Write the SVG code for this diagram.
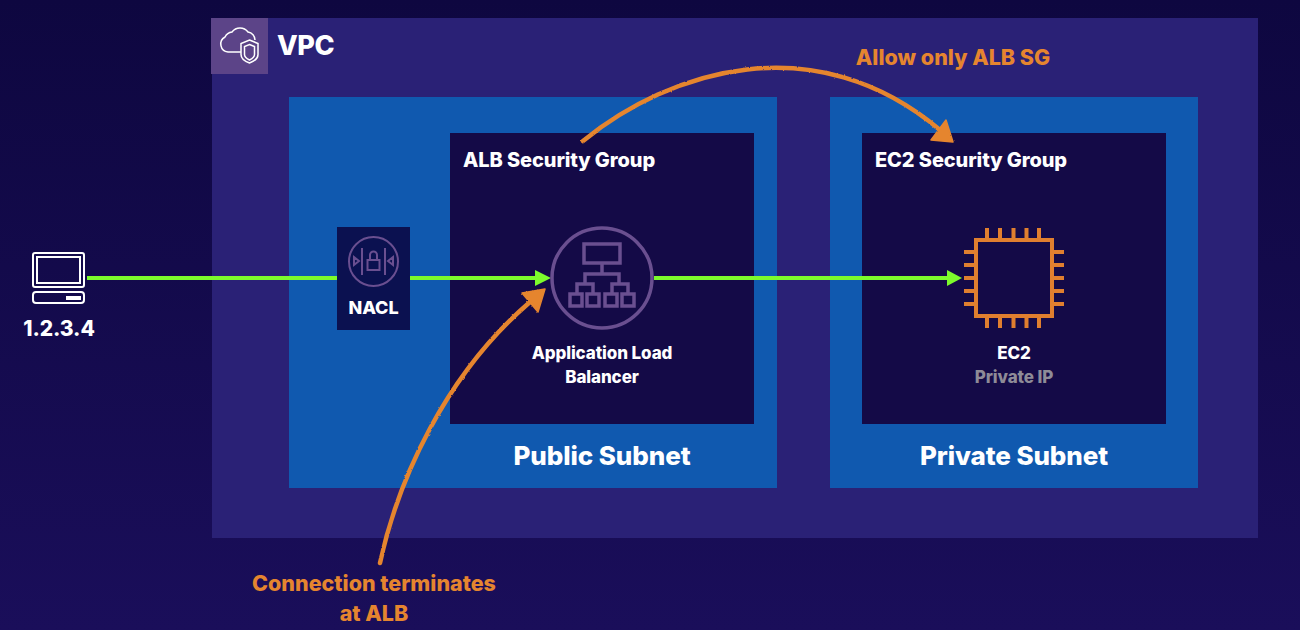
<svg xmlns="http://www.w3.org/2000/svg" width="1300" height="630" viewBox="0 0 1300 630">
<style>
text{font-family:Inter,"Liberation Sans",sans-serif;font-weight:800;fill:#fff;text-anchor:middle;letter-spacing:-.1px}
.l{text-anchor:start}
.o{fill:#e5852f;letter-spacing:0}
.sg{fill:#140a47}
.sub{fill:#1059af}
.p{fill:none;stroke:#6a4f90;stroke-width:3.500}
.pt{fill:none;stroke:#6a4f90;stroke-width:2}
.e{fill:none;stroke:#e07f2f;stroke-width:4}
.w{fill:none;stroke:#fff;stroke-width:2}
.g{fill:none;stroke:#7dfb2c;stroke-width:4}
.ga{fill:#7dfb2c}
.h{fill:none;stroke:#e5852f;stroke-width:4.500;stroke-linecap:round}
.ha{fill:#e5852f;stroke:#e5852f;stroke-width:1.500;stroke-linejoin:round}
</style>
<defs>
<linearGradient id="bg" x1="0" y1="0" x2="0" y2="1"><stop offset="0" stop-color="#0e0740"/><stop offset="1" stop-color="#1a0e5a"/></linearGradient>
<filter id="rough" x="-5%" y="-5%" width="110%" height="110%"><feTurbulence type="fractalNoise" baseFrequency="0.35" numOctaves="2" seed="4"/><feDisplacementMap in="SourceGraphic" scale="2" xChannelSelector="R" yChannelSelector="G"/></filter>
</defs>
<rect width="1300" height="630" fill="url(#bg)"/>
<g id="vpc">
<rect x="212" y="18" width="1046" height="520" fill="#2a2176"/>
<rect x="211" y="18" width="57" height="56" fill="#5c4488"/>
<path d="M241 52h-13a8 8 0 0 1-3-15a9 9 0 0 1 7-5a10 10 0 0 1 16 0a8 8 0 0 1 7 8" fill="none" stroke="#fff" stroke-width="1.500"/>
<path d="M249.500 40l8.500 3.500v11c0 4-3 6.500-8.500 8.500c-5.500-2-8.500-4.500-8.500-8.500v-11zM249.500 44.500l5 2v8c0 2.500-2 4-5 5.500c-3-1.500-5-3-5-5.500v-8z" fill="#5c4488" stroke="#fff" stroke-width="1.500"/>
<text class="l" x="277" y="55" font-size="27" style="letter-spacing:-.5px">VPC</text>
</g>
<g id="public-subnet">
<rect class="sub" x="289" y="97" width="488" height="391"/>
<rect class="sg" x="450" y="133" width="304" height="291"/>
<text class="l" x="463" y="167" font-size="20">ALB Security Group</text>
<text x="602" y="465" font-size="26">Public Subnet</text>
</g>
<g id="private-subnet">
<rect class="sub" x="830" y="97" width="368" height="391"/>
<rect class="sg" x="862" y="133" width="304" height="291"/>
<text class="l" x="875" y="167" font-size="20">EC2 Security Group</text>
<text x="1014" y="465" font-size="26">Private Subnet</text>
</g>
<g id="connectors">
<path class="g" d="M87 278H338M410 278H536M654 278H948"/>
<path class="ga" d="M535 270L551 278L535 286ZM947 270L962 278L947 286Z"/>
<g filter="url(#rough)">
<path class="h" d="M380 563C398 480 445 375 530 302"/>
<path class="ha" d="M522 293L545 289L538 312Z"/>
<path class="h" d="M583 141C670 70 815 25 940 130"/>
<path class="ha" d="M931 140L946 120L953 142Z"/>
</g>
</g>
<g id="client">
<rect class="w" x="33" y="253" width="51" height="34" rx="2"/>
<rect class="w" x="37" y="257" width="43" height="26"/>
<rect class="w" x="33" y="292" width="51" height="11" rx="3"/>
<rect x="66" y="296" width="15" height="4" fill="#fff"/>
<text x="59" y="336" font-size="21">1.2.3.4</text>
</g>
<g id="nacl">
<rect x="337" y="227" width="73" height="103" fill="#0b1150"/>
<circle class="pt" cx="373.500" cy="261.500" r="24.500"/>
<path class="pt" d="M362 248V275M385 248V275M367.500 260h12v10h-12zM370 260v-5a3.500 3.500 0 0 1 7 0v5M354 257v8l5-4zM393 257v8l-5-4z"/>
<text x="373.500" y="314" font-size="18">NACL</text>
</g>
<g id="alb">
<circle class="p" cx="602" cy="278" r="50"/>
<path class="p" d="M584 244h36v19h-36zM602 263v11M585 283v-9h34v9M570 294h12v12h-12zM587 294h12v12h-12zM605 294h12v12h-12zM622 294h12v12h-12zM577 294v-10h16v10M612 294v-10h16v10"/>
<text x="602" y="359" font-size="17">Application Load</text>
<text x="602" y="383" font-size="17">Balancer</text>
</g>
<g id="ec2">
<rect class="e" x="976" y="240" width="76" height="76"/>
<path class="e" d="M987 228v11M1000 228v11M1013.500 228v11M1026.500 228v11M1039 228v11M987 317v11M1000 317v11M1013.500 317v11M1026.500 317v11M1039 317v11M964 252h12M964 265h12M964 278h12M964 291h12M964 304h12M1052 252h12M1052 265h12M1052 278h12M1052 291h12M1052 304h12"/>
<text x="1014" y="359" font-size="17">EC2</text>
<text x="1014" y="383" font-size="17" style="fill:#8e8b97">Private IP</text>
</g>
<g id="annotations">
<text class="o" x="953" y="65" font-size="21.500">Allow only ALB SG</text>
<text class="o" x="374" y="591" font-size="21.500">Connection terminates</text>
<text class="o" x="374" y="621" font-size="21.500">at ALB</text>
</g>
</svg>
